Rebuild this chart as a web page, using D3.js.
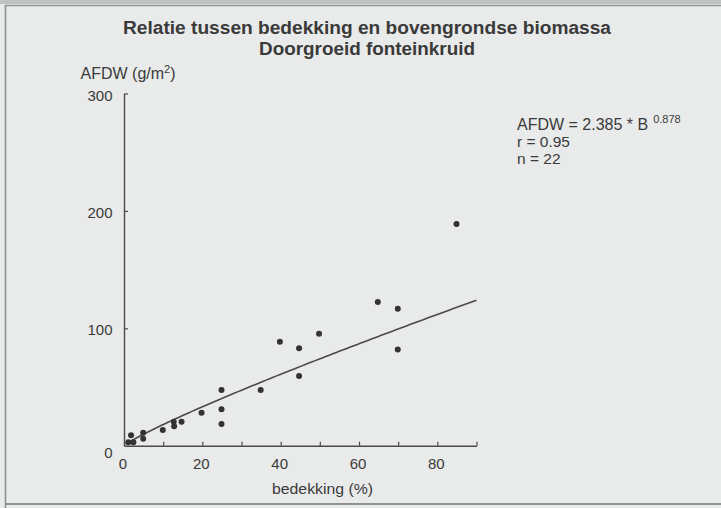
<!DOCTYPE html>
<html>
<head>
<meta charset="utf-8">
<script src="https://cdn.jsdelivr.net/npm/d3@7"></script>
<style>
  html, body { margin: 0; padding: 0; background: #e9eaea; }
  svg { display: block; }
  text { font-family: "Liberation Sans", Arial, Helvetica, sans-serif; fill: #3a3a3a; }
</style>
</head>
<body>
<script>
// ---- Data ----
const bedekking = [1.1, 2.4, 1.8, 4.9, 4.9, 9.9, 12.7, 12.8, 14.7, 19.8, 24.9, 24.9, 24.9, 34.9, 39.8, 44.7, 44.7, 49.8, 64.8, 69.9, 69.9, 84.9];
const afdw      = [3.0, 3.0, 9.0, 11.0, 6.0, 13.4, 20.5, 16.5, 20.4, 28.0, 47.4, 31.0, 18.5, 47.4, 88.6, 83.0, 59.4, 95.4, 122.4, 116.7, 82.0, 188.8];
const xTicks = [0, 20, 40, 60, 80];
const xMinorTicks = [10, 30, 50, 70, 90];
const yTicks = [0, 100, 200, 300];
const fitCoef = 2.385, fitExp = 0.878;        // AFDW = 2.385 * B^0.878
const fitRange = [0.5, 90];
const titleLines = ["Relatie tussen bedekking en bovengrondse biomassa", "Doorgroeid fonteinkruid"];
const statLines = ["r = 0.95", "n = 22"];

const W = 721, H = 508;
const svg = d3.select("body").append("svg").attr("width", W).attr("height", H);

// background / frame
svg.append("rect").attr("x", 0).attr("y", 0).attr("width", W).attr("height", H).attr("fill", "#e9eaea");
svg.append("rect").attr("x", 0).attr("y", 0).attr("width", W).attr("height", 4).attr("fill", "#bfc1c2");
svg.append("path").attr("d", `M5.5,${H}V5.5H${W}`).attr("fill", "none").attr("stroke", "#8e9091").attr("stroke-width", 1.6);
svg.append("line").attr("x1", 5).attr("x2", W).attr("y1", 504).attr("y2", 504).attr("stroke", "#8e9091").attr("stroke-width", 2);

const x = d3.scaleLinear().domain([0, 90]).range([124, 476.5]);
const y = d3.scaleLinear().domain([0, 300]).range([445.7, 93.5]);

const axisColor = "#4a4a4a";

// x axis: ticks inward (upward)
const gx = svg.append("g").attr("transform", `translate(0,${y(0)})`)
  .call(d3.axisTop(x).tickValues(xTicks.concat(xMinorTicks)).tickSize(4).tickSizeOuter(0).tickFormat(""));
gx.select(".domain").attr("stroke", axisColor).attr("stroke-width", 1.4);
gx.selectAll(".tick line").attr("stroke", axisColor).attr("stroke-width", 1.2);

svg.append("g").selectAll("text").data(xTicks).join("text")
  .attr("x", d => x(d) - 1).attr("y", 468.5)
  .attr("text-anchor", "middle").attr("font-size", 15)
  .text(d => d);

// y axis: ticks inward (right)
const gy = svg.append("g").attr("transform", `translate(${x(0)},0)`)
  .call(d3.axisRight(y).tickValues(yTicks.filter(d => d > 0)).tickSize(4).tickSizeOuter(0).tickFormat(""));
gy.select(".domain").attr("stroke", axisColor).attr("stroke-width", 1.4);
gy.selectAll(".tick line").attr("stroke", axisColor).attr("stroke-width", 1.2);

svg.append("g").selectAll("text").data(yTicks).join("text")
  .attr("x", 112.5).attr("y", d => y(d) + (d === 0 ? 12 : 7))
  .attr("text-anchor", "end").attr("font-size", 15)
  .text(d => d);

// titles
titleLines.forEach((t, i) => {
  svg.append("text").attr("x", 367).attr("y", i === 0 ? 34 : 55)
    .attr("text-anchor", "middle").attr("font-size", 17.5).attr("font-weight", "bold")
    .attr("textLength", i === 0 ? 488 : 216).attr("lengthAdjust", "spacingAndGlyphs")
    .text(t);
});

// y axis label
const yl = svg.append("text").attr("x", 80.5).attr("y", 79).attr("font-size", 16);
yl.append("tspan").text("AFDW (g/m");
yl.append("tspan").attr("dy", -6).attr("font-size", 11).text("2");
yl.append("tspan").attr("dy", 6).text(")");

// x axis label
svg.append("text").attr("x", 322.5).attr("y", 494).attr("text-anchor", "middle")
  .attr("font-size", 15.5).attr("textLength", 101).attr("lengthAdjust", "spacingAndGlyphs")
  .text("bedekking (%)");

// equation & stats
const eq = svg.append("text").attr("x", 517).attr("y", 130).attr("font-size", 16);
eq.append("tspan").text("AFDW = 2.385 * B");
eq.append("tspan").attr("dx", 5).attr("dy", -7).attr("font-size", 11).text("0.878");
statLines.forEach((t, i) => {
  svg.append("text").attr("x", 517).attr("y", 147 + i * 16.5).attr("font-size", 15.5).text(t);
});

// fitted power curve
const fitPts = d3.range(0, 101).map(i => {
  const b = fitRange[0] + (fitRange[1] - fitRange[0]) * i / 100;
  return [b, fitCoef * Math.pow(b, fitExp)];
});
svg.append("path").datum(fitPts)
  .attr("d", d3.line().x(d => x(d[0])).y(d => y(d[1])))
  .attr("fill", "none").attr("stroke", "#4a4a4a").attr("stroke-width", 1.6);

// points
svg.append("g").selectAll("circle").data(bedekking.map((b, i) => [b, afdw[i]])).join("circle")
  .attr("cx", d => x(d[0])).attr("cy", d => y(d[1])).attr("r", 3)
  .attr("fill", "#333");
</script>
</body>
</html>
